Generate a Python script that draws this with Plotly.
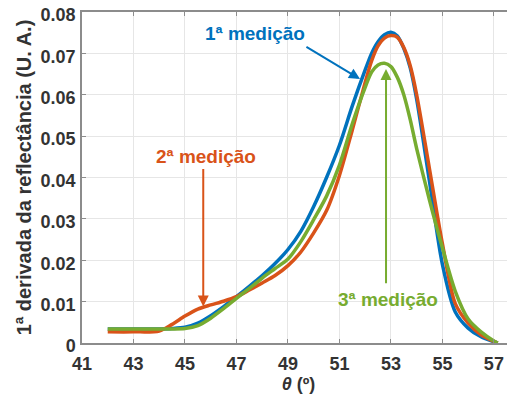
import plotly.graph_objects as go

theta = [42, 43, 44, 44.5, 45, 45.5, 46, 46.5, 47, 47.5, 48, 48.5, 49, 49.5, 50, 50.5,
         51, 51.5, 52, 52.25, 52.5, 52.75, 53, 53.25, 53.5, 53.75, 54, 54.5, 55, 55.5,
         56, 56.5, 57, 57.15]

med1 = [0.0034, 0.0034, 0.0034, 0.0035, 0.0038, 0.0048, 0.0066, 0.0088, 0.0112, 0.0137,
        0.0163, 0.0192, 0.0226, 0.0270, 0.0330, 0.0400, 0.0478, 0.0573, 0.0660, 0.0700,
        0.0728, 0.0745, 0.0751, 0.0742, 0.0712, 0.0665, 0.0589, 0.0390, 0.0190, 0.0075,
        0.0036, 0.0015, 0.0003, 0.0]
med2 = [0.0027, 0.0027, 0.0029, 0.0045, 0.0065, 0.0082, 0.0092, 0.0101, 0.0112, 0.0128,
        0.0145, 0.0163, 0.0187, 0.0220, 0.0266, 0.0320, 0.0405, 0.0515, 0.0630, 0.0682,
        0.0718, 0.0737, 0.0743, 0.0739, 0.0714, 0.0670, 0.0600, 0.0420, 0.0240, 0.0095,
        0.0048, 0.0020, 0.0004, 0.0]
med3 = [0.0034, 0.0034, 0.0034, 0.0034, 0.0035, 0.0042, 0.0060, 0.0083, 0.0108, 0.0132,
        0.0157, 0.0180, 0.0203, 0.0245, 0.0298, 0.0355, 0.0430, 0.0530, 0.0618, 0.0655,
        0.0672, 0.0676, 0.0668, 0.0642, 0.0600, 0.0540, 0.0470, 0.0345, 0.0230, 0.0125,
        0.0058, 0.0027, 0.0005, 0.0]

labels = ["1ª medição", "2ª medição", "3ª medição"]
colors = ["#0072BD", "#D95319", "#77AC30"]

xticks = [41, 43, 45, 47, 49, 51, 53, 55, 57]
yticks = [0, 0.01, 0.02, 0.03, 0.04, 0.05, 0.06, 0.07, 0.08]
yticklabels = ["0", "0.01", "0.02", "0.03", "0.04", "0.05", "0.06", "0.07", "0.08"]

fig = go.Figure()
for ys, name, c in zip([med1, med2, med3], labels, colors):
    fig.add_trace(go.Scatter(x=theta, y=ys, mode="lines", name=name,
                             line=dict(color=c, width=3.5, shape="spline", smoothing=0.8)))

font = "Liberation Sans, Arial, sans-serif"
tc = "#333333"

# annotations: (text, color, text_x, text_y, tail_x, tail_y, head_x, head_y)
ann = [
    (labels[0], colors[0], 47.72, 0.0747, 49.66, 0.0718, 51.8, 0.0638),
    (labels[1], colors[1], 45.8, 0.0451, 45.71, 0.0424, 45.71, 0.0088),
    (labels[2], colors[2], 52.88, 0.0104, 52.81, 0.0141, 52.81, 0.0662),
]
for t, c, tx, ty, ax_, ay_, hx, hy in ann:
    fig.add_annotation(x=tx, y=ty, text=t, showarrow=False,
                       font=dict(family=font, size=19, color=c, weight="bold"))
    fig.add_annotation(x=hx, y=hy, ax=ax_, ay=ay_, xref="x", yref="y", axref="x", ayref="y",
                       text="", showarrow=True, arrowhead=2, arrowsize=1.1, arrowwidth=2,
                       arrowcolor=c)

# the page body adds an 8px margin, so the figure is sized to fit the window
fig.update_layout(
    width=507, height=401,
    margin=dict(l=74, r=0, t=4, b=66),
    paper_bgcolor="white", plot_bgcolor="white",
    showlegend=False,
    font=dict(family=font, size=16, color=tc),
)
fig.update_xaxes(range=[41, 57.82], tickvals=xticks, ticktext=[str(v) for v in xticks],
                 automargin=False,
                 showgrid=True, gridcolor="#e6e6e6", gridwidth=1,
                 showline=True, linecolor="#8c8c8c", linewidth=1.5, mirror="allticks",
                 ticks="inside", ticklen=4, tickcolor="#8c8c8c", zeroline=False,
                 ticklabelstandoff=4,
                 tickfont=dict(family=font, size=18, color=tc, weight="bold"),
                 title=dict(text="<i>θ</i> (º)",
                            font=dict(family=font, size=18, color=tc, weight="bold"),
                            standoff=2))
fig.update_yaxes(range=[0, 0.08], tickvals=yticks, ticktext=yticklabels,
                 automargin=False,
                 showgrid=True, gridcolor="#e6e6e6", gridwidth=1,
                 showline=True, linecolor="#8c8c8c", linewidth=1.5, mirror=False,
                 ticks="inside", ticklen=4, tickcolor="#8c8c8c", zeroline=False,
                 ticklabelstandoff=1, ticklabelshift=3, ticklabeloverflow="allow",
                 tickfont=dict(family=font, size=18, color=tc, weight="bold"),
                 title=dict(text="1ª derivada da reflectância (U. A.)",
                            font=dict(family=font, size=20, color=tc, weight="bold"),
                            standoff=4))

fig.write_html("out.html")
